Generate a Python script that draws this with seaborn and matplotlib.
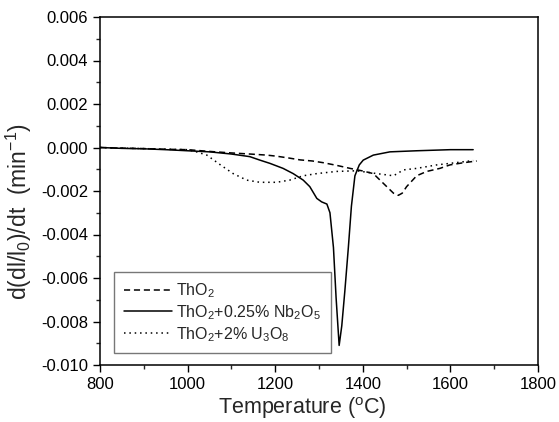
import matplotlib
matplotlib.use('Agg')

import matplotlib.pyplot as plt
import seaborn as sns
import pandas as pd
from matplotlib.ticker import MultipleLocator, FormatStrFormatter

sns.set_style("ticks")
plt.rcParams['font.family'] = ['Liberation Sans', 'DejaVu Sans']
plt.rcParams['mathtext.default'] = 'regular'

# ThO2 (dashed)
t_tho2 = [800, 850, 900, 950, 1000, 1050, 1100, 1142, 1181, 1203, 1230, 1257, 1285,
          1310, 1340, 1371, 1400, 1424, 1447, 1470, 1481, 1490, 1500, 1523, 1546,
          1576, 1599, 1630, 1660]
v_tho2 = [0.0, -0.00003, -0.00005, -0.00008, -0.0001, -0.00018, -0.00025, -0.0003,
          -0.00035, -0.0004, -0.00048, -0.00057, -0.00062, -0.0007, -0.00082, -0.00096,
          -0.00108, -0.0012, -0.00165, -0.0021, -0.0022, -0.0021, -0.0018, -0.0013,
          -0.0011, -0.00096, -0.0008, -0.0007, -0.00062]

# ThO2 + 0.25% Nb2O5 (solid)
t_nb = [800, 850, 900, 950, 1000, 1050, 1100, 1142, 1165, 1188, 1218, 1241, 1264,
        1279, 1295, 1306, 1318, 1325, 1333, 1339, 1346, 1352, 1359, 1367, 1374, 1382,
        1392, 1401, 1424, 1462, 1523, 1600, 1652]
v_nb = [0.0, -0.00004, -0.00006, -0.0001, -0.00015, -0.0002, -0.0003, -0.00042,
        -0.00058, -0.00073, -0.00096, -0.0012, -0.0015, -0.0018, -0.00234, -0.0025,
        -0.0026, -0.0030, -0.0046, -0.0069, -0.0091, -0.0082, -0.0066, -0.0046,
        -0.0027, -0.0013, -0.0008, -0.00058, -0.00035, -0.0002, -0.00015, -0.0001,
        -0.0001]

# ThO2 + 2% U3O8 (dotted)
t_u = [800, 850, 900, 950, 1000, 1020, 1044, 1075, 1104, 1135, 1165, 1203, 1233,
       1264, 1295, 1340, 1386, 1432, 1470, 1493, 1523, 1569, 1599, 1652]
v_u = [0.0, -0.00003, -0.00005, -0.00008, -0.0001, -0.0002, -0.00035, -0.0008,
       -0.0012, -0.0015, -0.0016, -0.0016, -0.0015, -0.0013, -0.0012, -0.0011,
       -0.00107, -0.0012, -0.0013, -0.00103, -0.00096, -0.0008, -0.00073, -0.0006]

labels = ["ThO$_2$", "ThO$_2$+0.25% Nb$_2$O$_5$", "ThO$_2$+2% U$_3$O$_8$"]

df = pd.concat([
    pd.DataFrame({'T': t_tho2, 'v': v_tho2, 'Sample': labels[0]}),
    pd.DataFrame({'T': t_nb, 'v': v_nb, 'Sample': labels[1]}),
    pd.DataFrame({'T': t_u, 'v': v_u, 'Sample': labels[2]}),
], ignore_index=True)

fig, ax = plt.subplots(figsize=(5.59, 4.22), dpi=100)
fig.subplots_adjust(left=100 / 559, right=538 / 559, bottom=1 - 365 / 422, top=1 - 17 / 422)

sns.lineplot(data=df, x='T', y='v', hue='Sample', style='Sample',
             hue_order=labels, style_order=labels,
             palette=dict(zip(labels, ['black'] * 3)),
             dashes=dict(zip(labels, [(4, 2.5), '', (1, 2.5)])),
             linewidth=1.1, sort=False, estimator=None, ax=ax)

ax.set_xlim(800, 1800)
ax.set_ylim(-0.010, 0.006)
ax.xaxis.set_major_locator(MultipleLocator(200))
ax.xaxis.set_minor_locator(MultipleLocator(100))
ax.yaxis.set_major_locator(MultipleLocator(0.002))
ax.yaxis.set_minor_locator(MultipleLocator(0.001))
ax.yaxis.set_major_formatter(FormatStrFormatter('%.3f'))
ax.tick_params(which='major', direction='out', length=5, width=1, labelsize=12, colors='black')
ax.tick_params(which='minor', direction='out', length=3, width=1)
for s in ax.spines.values():
    s.set_color('black')
    s.set_linewidth(1.1)

ax.set_xlabel('Temperature ($^{o}$C)', fontsize=15.5)
ax.set_ylabel('d(dl/l$_0$)/dt  (min$^{-1}$)', fontsize=16.5)
ax.xaxis.set_label_coords(0.461, -0.088)
ax.yaxis.set_label_coords(-0.15, 0.44)

leg = ax.legend(loc='lower left', bbox_to_anchor=(0.032, 0.034), borderaxespad=0,
                frameon=True, fancybox=False, edgecolor='#555555', fontsize=11.5,
                handlelength=3.0, borderpad=0.6, labelspacing=0.2, handletextpad=0.3,
                title=None)
leg.get_frame().set_linewidth(1.0)

plt.savefig('out.png', dpi=100)
